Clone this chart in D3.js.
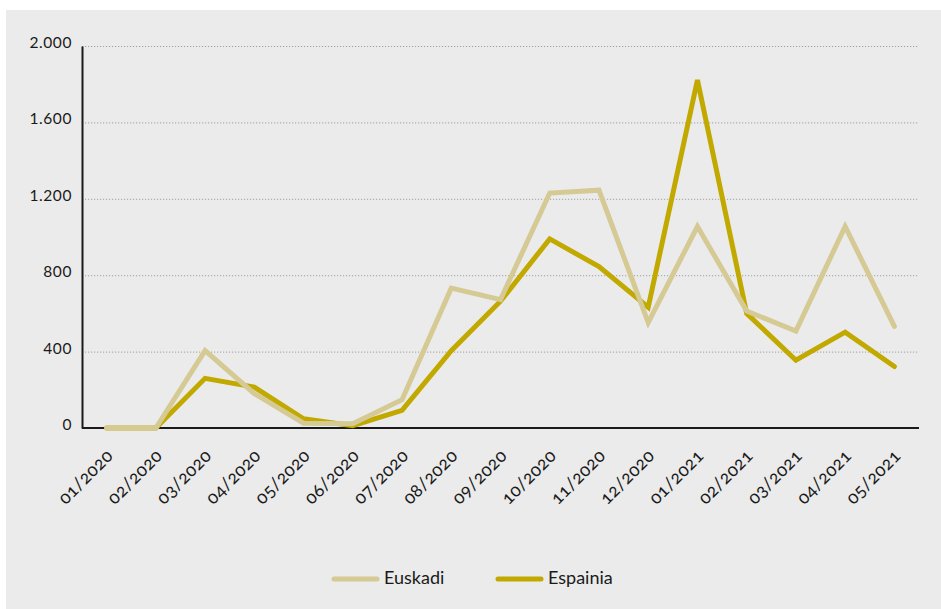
<!DOCTYPE html>
<html>
<head>
<meta charset="utf-8">
<script src="https://cdn.jsdelivr.net/npm/d3@7"></script>
<style>
  html, body { margin: 0; padding: 0; background: #ffffff; }
  svg { display: block; }
  text { font-family: Lato, "Open Sans", sans-serif; fill: #1a1a1a; }
</style>
</head>
<body>
<svg id="chart" width="941" height="609"></svg>
<script>
const months = ["01/2020","02/2020","03/2020","04/2020","05/2020","06/2020","07/2020","08/2020","09/2020","10/2020","11/2020","12/2020","01/2021","02/2021","03/2021","04/2021","05/2021"];
const euskadi  = [0, 0, 405, 180, 25, 22, 148, 732, 672, 1230, 1245, 552, 1055, 612, 508, 1055, 532];
const espainia = [0, 0, 260, 214, 48, 12, 92, 405, 664, 990, 845, 632, 1822, 600, 355, 502, 322];
const yTicks = [0, 400, 800, 1200, 1600, 2000];
const yTickLabels = ["0", "400", "800", "1.200", "1.600", "2.000"];
const seriesNames = ["Euskadi", "Espainia"];
const seriesColors = ["#d5c994", "#c1a900"];

const svg = d3.select("#chart");
const W = 941, H = 609;
const m = { left: 82, right: 22, top: 46, bottom: 181 };

svg.append("rect").attr("x", 6).attr("y", 10).attr("width", W - 6).attr("height", H - 10).attr("fill", "#ebebeb");

const x = d3.scalePoint().domain(months).range([m.left, W - m.right]).padding(0.5);
const y = d3.scaleLinear().domain([0, 2000]).range([H - m.bottom, m.top]);

// grid
const grid = svg.append("g");
grid.selectAll("line").data(yTicks.filter(d => d > 0)).join("line")
  .attr("x1", m.left).attr("x2", W - m.right)
  .attr("y1", d => y(d) + 0.5).attr("y2", d => y(d) + 0.5)
  .attr("stroke", "#a0a0a0").attr("stroke-width", 1).attr("stroke-dasharray", "1.2,1.8");

// y axis
const yAxis = svg.append("g").attr("transform", `translate(${m.left},0)`)
  .call(d3.axisLeft(y).tickValues(yTicks).tickSize(0).tickPadding(10).tickFormat((d, i) => yTickLabels[i]));
yAxis.select(".domain").attr("stroke", "#1a1a1a").attr("stroke-width", 2);
yAxis.selectAll("text").attr("font-size", 15.5).attr("letter-spacing", 0.6).attr("dy", "0.1em")
  .style("font-family", "Lato, sans-serif").attr("fill", "#1a1a1a");

// x axis
const xAxis = svg.append("g").attr("transform", `translate(0,${y(0)})`)
  .call(d3.axisBottom(x).tickSize(0).tickPadding(0));
xAxis.select(".domain").attr("d", `M${m.left},0H${W - m.right}`).attr("stroke", "#1a1a1a").attr("stroke-width", 2.2);
xAxis.selectAll("text")
  .attr("font-size", 18).attr("letter-spacing", 0.3)
  .style("font-family", "Lato, sans-serif").attr("fill", "#1a1a1a")
  .style("font-variant-numeric", "oldstyle-nums")
  .attr("text-anchor", "end")
  .attr("dy", 0).attr("y", 0)
  .attr("transform", "translate(7,29) rotate(-45)");

// lines
const line = d3.line().x((d, i) => x(months[i])).y(d => y(d));
const data = [espainia, euskadi];
const cols = [seriesColors[1], seriesColors[0]];
svg.append("g").selectAll("path").data(data).join("path")
  .attr("d", d => line(d))
  .attr("fill", "none")
  .attr("stroke", (d, i) => cols[i])
  .attr("stroke-width", 5)
  .attr("stroke-linejoin", "miter")
  .attr("stroke-linecap", "round");

// legend
const legend = svg.append("g");
const legX = [334, 498];
seriesNames.forEach((name, i) => {
  legend.append("line").attr("x1", legX[i]).attr("x2", legX[i] + 43)
    .attr("y1", 579).attr("y2", 579)
    .attr("stroke", seriesColors[i]).attr("stroke-width", 5).attr("stroke-linecap", "round");
  legend.append("text").attr("x", legX[i] + 50).attr("y", 584)
    .attr("font-size", 18).text(name);
});
</script>
</body>
</html>
